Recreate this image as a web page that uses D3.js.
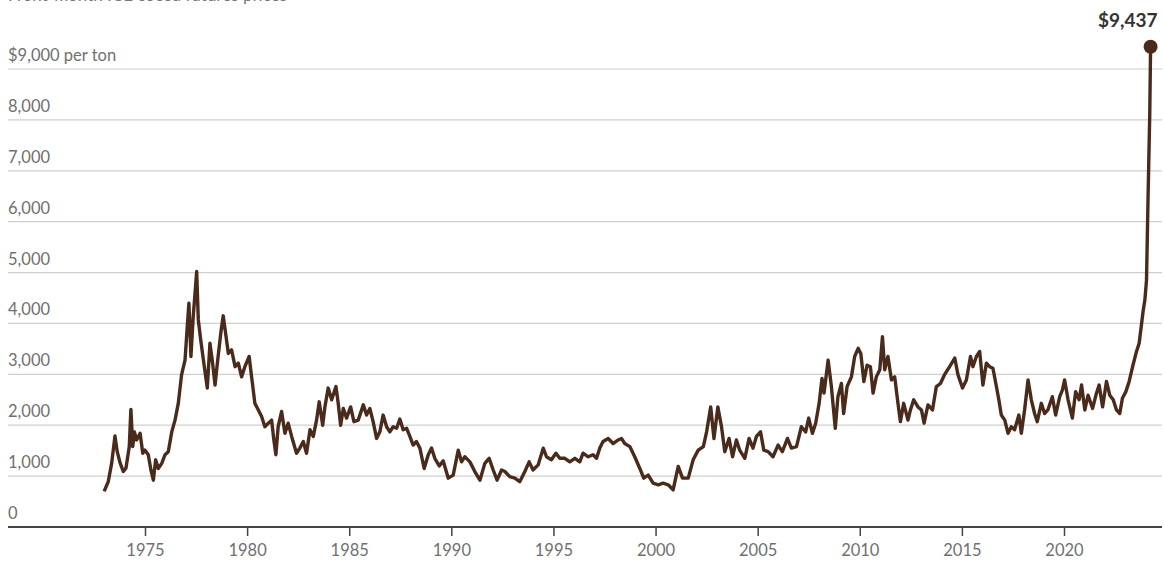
<!DOCTYPE html>
<html>
<head>
<meta charset="utf-8">
<script src="https://cdn.jsdelivr.net/npm/d3@7"></script>
<style>
  body { margin: 0; background: #fff; }
  svg { display: block; font-family: Lato, "Noto Sans", sans-serif; }
</style>
</head>
<body>
<svg id="LineChart" width="1164" height="569"></svg>
<script>
// decimal year of each reading
var years = [
  1973.00, 1973.20, 1973.37, 1973.53, 1973.64, 1973.78, 1973.94, 1974.07, 1974.23, 1974.31,
  1974.40, 1974.48, 1974.59, 1974.76, 1974.89, 1975.00, 1975.16, 1975.29, 1975.41, 1975.52,
  1975.65, 1975.82, 1975.98, 1976.14, 1976.31, 1976.47, 1976.63, 1976.79, 1976.96, 1977.07,
  1977.15, 1977.25, 1977.36, 1977.45, 1977.53, 1977.61, 1977.73, 1977.86, 1978.05, 1978.18,
  1978.31, 1978.43, 1978.56, 1978.72, 1978.83, 1978.97, 1979.08, 1979.24, 1979.41, 1979.57,
  1979.73, 1979.89, 1980.10, 1980.22, 1980.38, 1980.55, 1980.71, 1980.87, 1981.04, 1981.20,
  1981.31, 1981.41, 1981.52, 1981.69, 1981.85, 1982.01, 1982.18, 1982.42, 1982.58, 1982.75,
  1982.91, 1983.08, 1983.24, 1983.40, 1983.53, 1983.70, 1983.81, 1983.97, 1984.14, 1984.35,
  1984.46, 1984.58, 1984.71, 1984.87, 1985.07, 1985.23, 1985.44, 1985.69, 1985.85, 1986.01,
  1986.17, 1986.34, 1986.50, 1986.66, 1986.83, 1986.99, 1987.15, 1987.32, 1987.48, 1987.64,
  1987.81, 1987.97, 1988.13, 1988.29, 1988.46, 1988.67, 1988.87, 1989.03, 1989.19, 1989.41,
  1989.60, 1989.85, 1990.09, 1990.34, 1990.50, 1990.66, 1990.91, 1991.15, 1991.40, 1991.64,
  1991.85, 1992.05, 1992.24, 1992.46, 1992.62, 1992.86, 1993.11, 1993.35, 1993.60, 1993.81,
  1994.00, 1994.25, 1994.50, 1994.66, 1994.90, 1995.12, 1995.31, 1995.56, 1995.80, 1996.05,
  1996.29, 1996.45, 1996.70, 1996.94, 1997.11, 1997.27, 1997.43, 1997.68, 1997.92, 1998.17,
  1998.33, 1998.49, 1998.74, 1998.98, 1999.23, 1999.42, 1999.64, 1999.88, 2000.13, 2000.37,
  2000.62, 2000.86, 2001.11, 2001.32, 2001.60, 2001.84, 2002.09, 2002.34, 2002.50, 2002.70,
  2002.86, 2003.05, 2003.23, 2003.39, 2003.60, 2003.77, 2003.96, 2004.12, 2004.37, 2004.58,
  2004.77, 2004.94, 2005.14, 2005.30, 2005.51, 2005.75, 2006.00, 2006.21, 2006.46, 2006.65,
  2006.90, 2007.14, 2007.35, 2007.50, 2007.68, 2007.84, 2008.01, 2008.15, 2008.25, 2008.45,
  2008.61, 2008.80, 2008.93, 2009.10, 2009.21, 2009.38, 2009.59, 2009.75, 2009.92, 2010.05,
  2010.20, 2010.36, 2010.52, 2010.65, 2010.81, 2010.98, 2011.11, 2011.22, 2011.38, 2011.55,
  2011.71, 2011.87, 2011.99, 2012.15, 2012.36, 2012.48, 2012.64, 2012.85, 2013.02, 2013.15,
  2013.34, 2013.56, 2013.75, 2013.95, 2014.16, 2014.40, 2014.65, 2014.81, 2015.03, 2015.22,
  2015.42, 2015.54, 2015.71, 2015.87, 2016.03, 2016.20, 2016.36, 2016.52, 2016.69, 2016.81,
  2016.93, 2017.10, 2017.26, 2017.42, 2017.58, 2017.79, 2017.91, 2018.07, 2018.24, 2018.40,
  2018.56, 2018.69, 2018.89, 2019.05, 2019.21, 2019.43, 2019.59, 2019.79, 2019.92, 2020.03,
  2020.20, 2020.41, 2020.57, 2020.74, 2020.86, 2021.02, 2021.18, 2021.40, 2021.59, 2021.72,
  2021.89, 2022.08, 2022.24, 2022.41, 2022.57, 2022.73, 2022.86, 2023.03, 2023.19, 2023.36,
  2023.55, 2023.68, 2023.80, 2023.88, 2023.96, 2024.04, 2024.12, 2024.20, 2024.24
];

// price in $ per ton
var prices = [
  700, 890, 1260, 1790, 1480, 1260, 1090, 1160, 1580, 2310,
  1580, 1870, 1710, 1840, 1450, 1510, 1420, 1120, 920, 1320,
  1150, 1250, 1420, 1480, 1870, 2100, 2430, 2990, 3280, 3940,
  4400, 3350, 4130, 4590, 5020, 4070, 3670, 3280, 2730, 3610,
  3220, 2790, 3280, 3840, 4150, 3740, 3410, 3480, 3150, 3220,
  2950, 3150, 3350, 2950, 2430, 2300, 2170, 1970, 2040, 2100,
  1710, 1420, 1970, 2270, 1840, 2040, 1780, 1450, 1550, 1680,
  1450, 1910, 1780, 2100, 2460, 2000, 2360, 2730, 2500, 2760,
  2430, 2000, 2330, 2140, 2360, 2070, 2100, 2400, 2200, 2330,
  2070, 1740, 1870, 2200, 1970, 1870, 1970, 1940, 2120, 1910,
  1940, 1780, 1610, 1680, 1550, 1150, 1420, 1550, 1350, 1200,
  1300, 960, 1020, 1510, 1280, 1380, 1280, 1090, 920, 1250,
  1350, 1120, 920, 1120, 1090, 990, 960, 890, 1090, 1280,
  1120, 1220, 1550, 1380, 1320, 1450, 1350, 1350, 1280, 1350,
  1280, 1450, 1380, 1420, 1350, 1550, 1680, 1740, 1640, 1710,
  1740, 1640, 1580, 1380, 1150, 960, 1020, 860, 830, 860,
  830, 730, 1190, 960, 960, 1320, 1510, 1580, 1870, 2360,
  1740, 2360, 1970, 1480, 1740, 1380, 1710, 1510, 1350, 1740,
  1550, 1780, 1870, 1510, 1480, 1380, 1610, 1480, 1740, 1550,
  1580, 1970, 1870, 2140, 1840, 2040, 2430, 2920, 2630, 3280,
  2760, 1940, 2560, 2820, 2230, 2760, 2950, 3350, 3510, 3410,
  2860, 3180, 3150, 2630, 2950, 3090, 3740, 3090, 3350, 2890,
  2950, 2430, 2070, 2430, 2100, 2300, 2500, 2360, 2300, 2040,
  2400, 2300, 2760, 2820, 3000, 3150, 3320, 2990, 2730, 2890,
  3350, 3150, 3350, 3450, 2790, 3220, 3150, 3120, 2760, 2500,
  2200, 2100, 1840, 1970, 1910, 2200, 1840, 2300, 2890, 2500,
  2230, 2070, 2430, 2230, 2300, 2560, 2200, 2560, 2690, 2890,
  2500, 2140, 2660, 2500, 2790, 2300, 2590, 2330, 2630, 2790,
  2360, 2860, 2590, 2500, 2300, 2230, 2530, 2660, 2860, 3150,
  3450, 3610, 4000, 4260, 4460, 4850, 6560, 8130, 9437
];

var yTicks = [0, 1000, 2000, 3000, 4000, 5000, 6000, 7000, 8000, 9000];
var xTicks = [1975, 1980, 1985, 1990, 1995, 2000, 2005, 2010, 2015, 2020];

var data = years.map(function (yr, i) { return [yr, prices[i]]; });
var last = data[data.length - 1];

var svg = d3.select('#LineChart');
var left = 8, right = 1162;

// scales: decimal year -> x, price -> y
var xScale = d3.scaleLinear().domain([1975, 2020]).range([145, 1064]);
var yScale = d3.scaleLinear().domain([0, 9000]).range([527, 69]);

// subtitle, mostly cropped off the top edge like in the source image
svg.append('text')
  .attr('x', left).attr('y', 1)
  .attr('fill', '#777')
  .style('font-size', '17px')
  .text('Front-month ICE cocoa futures prices');

// horizontal gridlines
svg.append('g').selectAll('line')
  .data(yTicks.filter(function (d) { return d > 0; }))
  .join('line')
  .attr('x1', left).attr('x2', right)
  .attr('y1', function (d) { return yScale(d); })
  .attr('y2', function (d) { return yScale(d); })
  .attr('stroke', '#cfcfcf')
  .attr('stroke-width', 1.2);

// y labels sit above their gridline
svg.append('g').selectAll('text')
  .data(yTicks)
  .join('text')
  .attr('x', left)
  .attr('y', function (d) { return yScale(d) - 8; })
  .attr('fill', '#707070')
  .style('font-size', '16.5px')
  .text(function (d) {
    return d === 9000 ? '$9,000 per ton' : (d === 0 ? '0' : d3.format(',')(d));
  });

// x axis
var xAxis = d3.axisBottom(xScale)
  .tickValues(xTicks)
  .tickFormat(d3.format('d'))
  .tickSize(9)
  .tickPadding(8);

var gx = svg.append('g')
  .attr('transform', 'translate(0, ' + yScale(0) + ')')
  .call(xAxis);

gx.select('.domain').remove();
gx.selectAll('.tick line').attr('stroke', '#444').attr('stroke-width', 1.5);
gx.selectAll('.tick text')
  .attr('fill', '#707070')
  .style('font-family', 'Lato, "Noto Sans", sans-serif')
  .style('font-size', '16.5px');

gx.append('line')
  .attr('x1', left).attr('x2', right)
  .attr('stroke', '#444')
  .attr('stroke-width', 2);

// price line
var line = d3.line()
  .x(function (d) { return xScale(d[0]); })
  .y(function (d) { return yScale(d[1]); });

svg.append('path')
  .datum(data)
  .attr('d', line)
  .attr('fill', 'none')
  .attr('stroke', '#4a2b1b')
  .attr('stroke-width', 3.4)
  .attr('stroke-linejoin', 'round');

// end point + label
svg.append('circle')
  .attr('cx', xScale(last[0]))
  .attr('cy', yScale(last[1]))
  .attr('r', 7)
  .attr('fill', '#4a2b1b');

svg.append('text')
  .attr('x', xScale(last[0]) + 7)
  .attr('y', yScale(last[1]) - 20)
  .attr('text-anchor', 'end')
  .attr('fill', '#333')
  .style('font-size', '19px')
  .style('font-weight', 'bold')
  .text('$' + d3.format(',')(last[1]));
</script>
</body>
</html>
